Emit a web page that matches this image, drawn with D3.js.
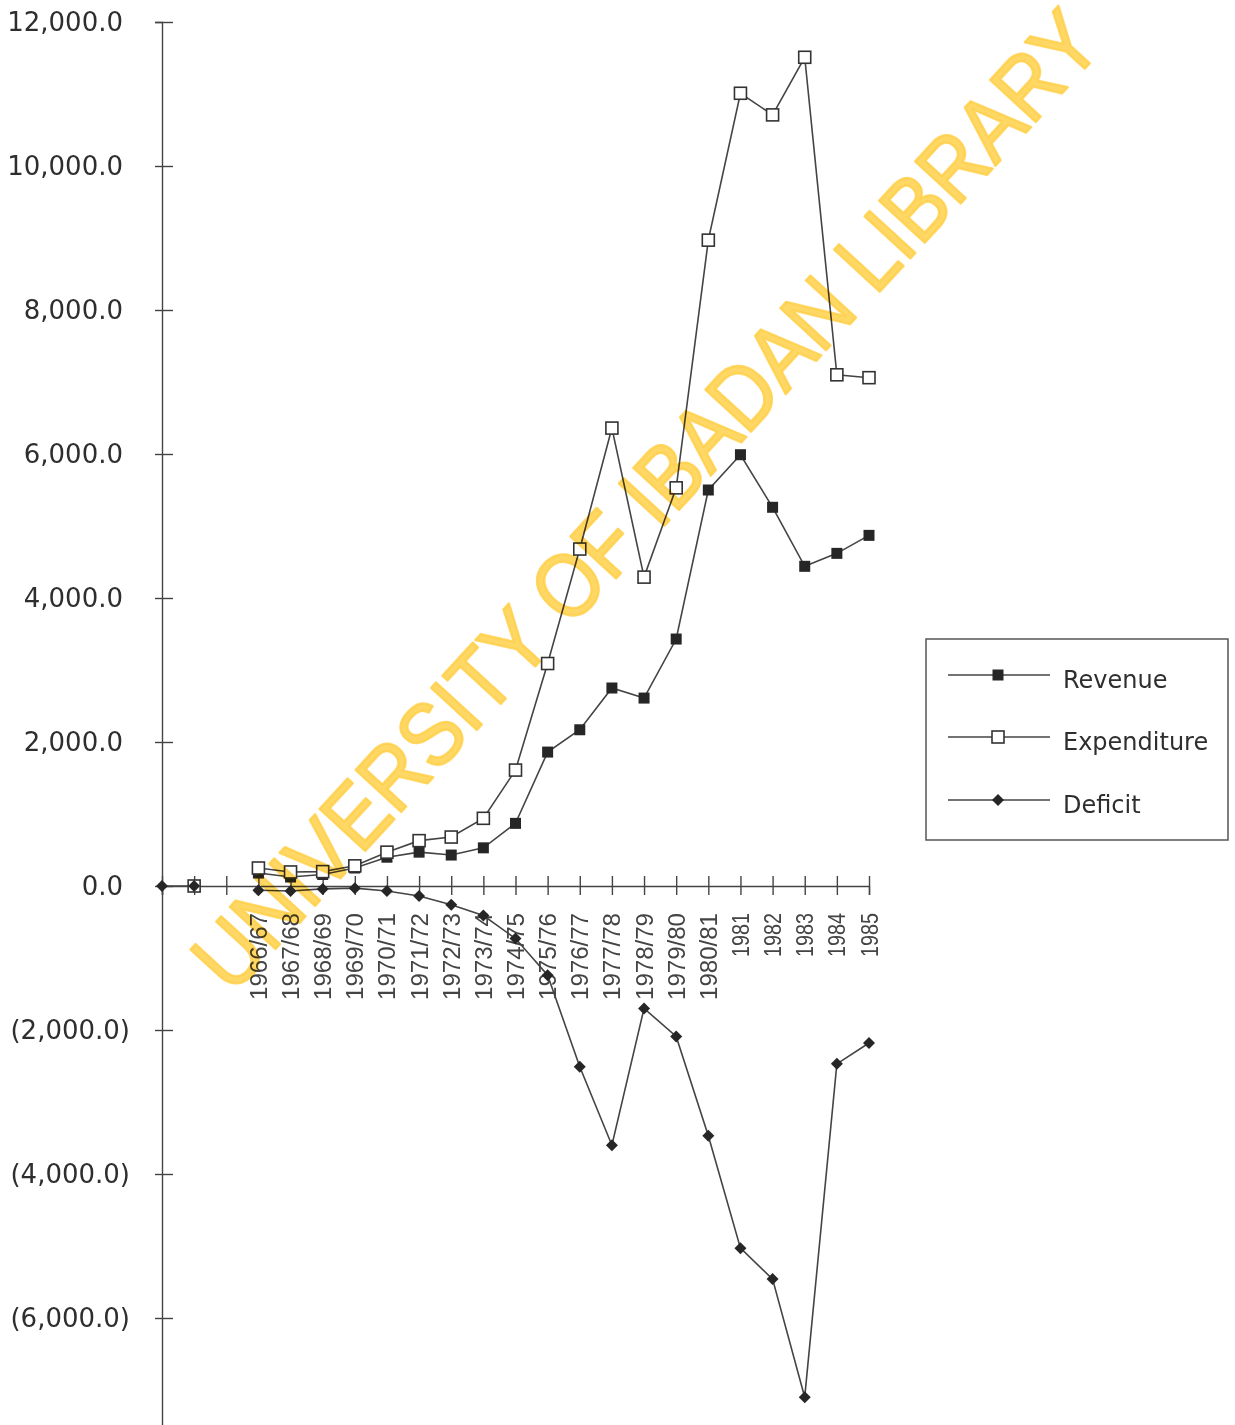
<!DOCTYPE html>
<html>
<head>
<meta charset="utf-8">
<script src="https://cdn.jsdelivr.net/npm/d3@7"></script>
<style>
  html, body { margin: 0; padding: 0; background: #ffffff; }
  svg { display: block; }
</style>
</head>
<body>
<svg id="chart" width="1235" height="1425"></svg>
<script>
// Federal revenue, expenditure and deficit (N million)
const categories = ["", "", "", "1966/67", "1967/68", "1968/69", "1969/70", "1970/71",
  "1971/72", "1972/73", "1973/74", "1974/75", "1975/76", "1976/77", "1977/78",
  "1978/79", "1979/80", "1980/81", "1981", "1982", "1983", "1984", "1985"];
const revenue = [null, 0, null, 180, 125, 160, 250, 400, 470, 430, 530, 870, 1860,
  2170, 2750, 2610, 3430, 5500, 5990, 5260, 4440, 4620, 4870];
const expenditure = [null, 0, null, 250, 195, 200, 280, 470, 630, 680, 940, 1610, 3090,
  4680, 6360, 4290, 5530, 8970, 11010, 10710, 11510, 7100, 7060];
const deficit = [0, 0, null, -60, -70, -40, -30, -70, -140, -260, -410, -730, -1240,
  -2510, -3600, -1700, -2090, -3470, -5030, -5460, -7100, -2470, -2180];
const yTicks = [-8000, -6000, -4000, -2000, 0, 2000, 4000, 6000, 8000, 10000, 12000];
const yTickLabels = [-6000, -4000, -2000, 0, 2000, 4000, 6000, 8000, 10000, 12000];
const seriesNames = ["Revenue", "Expenditure", "Deficit"];
const watermarkText = "UNIVERSITY OF IBADAN LIBRARY";

const svg = d3.select("#chart");
const ink = "#2e2e2e";
const lineInk = "#444444";
const markInk = "#262626";

const x = d3.scalePoint().domain(d3.range(categories.length)).range([162, 869]);
const y = d3.scaleLinear().domain([-8000, 12000]).range([1462, 22]);

const fmt = d3.format(",.1f");
const tickText = v => v < 0 ? `(${fmt(-v)})` : fmt(v);

// Y axis: ticks cross the axis line
const yAxis = svg.append("g")
  .attr("transform", `translate(${x(0)},0)`)
  .call(d3.axisLeft(y).tickValues(yTicks).tickSize(7).tickFormat(""));
yAxis.select(".domain").attr("stroke", "#444").attr("stroke-width", 1.4);
yAxis.selectAll(".tick line").attr("x1", -7).attr("x2", 11)
  .attr("stroke", "#444").attr("stroke-width", 1.4);

svg.append("g").selectAll("text").data(yTickLabels).join("text")
  .attr("x", d => d < 0 ? 130 : 123)
  .attr("y", d => y(d))
  .attr("dy", "0.36em")
  .attr("text-anchor", "end")
  .attr("font-family", "DejaVu Sans, sans-serif")
  .attr("font-size", 26)
  .attr("fill", ink)
  .text(tickText);

// X axis along zero
const xAxis = svg.append("g")
  .attr("transform", `translate(0,${y(0)})`)
  .call(d3.axisBottom(x).tickSize(9).tickFormat(""));
xAxis.select(".domain").attr("stroke", "#444").attr("stroke-width", 1.4);
xAxis.selectAll(".tick line").attr("y1", -10).attr("y2", 9)
  .attr("stroke", "#444").attr("stroke-width", 1.4);

svg.append("g").selectAll("text").data(categories.map((c, i) => ({ c, i })).filter(d => d.c))
  .join("text")
  .attr("transform", d => `translate(${x(d.i)},${y(0) + 27}) rotate(-90)`)
  .attr("dy", "0.37em")
  .attr("text-anchor", "end")
  .attr("font-family", "Liberation Sans, Arial, sans-serif")
  .attr("font-size", 23)
  .attr("fill", "#444")
  .attr("textLength", d => d.c.includes("/") ? 87 : 44)
  .attr("lengthAdjust", "spacingAndGlyphs")
  .text(d => d.c);

// Lines and markers
const pts = arr => arr.map((v, i) => ({ i, v }));
const line = d3.line().defined(d => d.v !== null).x(d => x(d.i)).y(d => y(d.v));
const allSeries = [revenue, expenditure, deficit];

const plot = svg.append("g");
allSeries.forEach(arr => {
  plot.append("path").datum(pts(arr))
    .attr("d", line)
    .attr("fill", "none")
    .attr("stroke", lineInk)
    .attr("stroke-width", 1.6);
});

function drawMarker(g, kind, cx, cy) {
  if (kind === 0) {
    g.append("rect").attr("x", cx - 5.5).attr("y", cy - 5.5).attr("width", 11).attr("height", 11)
      .attr("fill", markInk);
  } else if (kind === 1) {
    g.append("rect").attr("x", cx - 6).attr("y", cy - 6).attr("width", 12).attr("height", 12)
      .attr("fill", "#ffffff").attr("stroke", "#333").attr("stroke-width", 1.6);
  } else {
    g.append("path").attr("d", `M${cx},${cy - 6}L${cx + 6},${cy}L${cx},${cy + 6}L${cx - 6},${cy}Z`)
      .attr("fill", markInk);
  }
}

allSeries.forEach((arr, k) => {
  const g = plot.append("g");
  pts(arr).filter(d => d.v !== null).forEach(d => drawMarker(g, k, x(d.i), y(d.v)));
});

// Legend
const legend = svg.append("g");
legend.append("rect").attr("x", 926).attr("y", 639).attr("width", 302).attr("height", 201)
  .attr("fill", "#ffffff").attr("stroke", "#555").attr("stroke-width", 1.5);
const rowY = [675, 737, 800];
seriesNames.forEach((name, k) => {
  const g = legend.append("g");
  g.append("line").attr("x1", 948).attr("x2", 1050).attr("y1", rowY[k]).attr("y2", rowY[k])
    .attr("stroke", lineInk).attr("stroke-width", 1.5);
  drawMarker(g, k, 998, rowY[k]);
  g.append("text").attr("x", 1063).attr("y", rowY[k] + 4).attr("dy", "0.36em")
    .attr("font-family", "DejaVu Sans, sans-serif").attr("font-size", 24)
    .attr("fill", ink).text(name);
});

// Library watermark across the plot
svg.append("text")
  .attr("transform", "translate(232,996) rotate(-47.4)")
  .attr("font-family", "Liberation Sans, Arial, sans-serif")
  .attr("font-size", 90)
  .attr("textLength", 1290)
  .attr("lengthAdjust", "spacingAndGlyphs")
  .attr("fill", "#ffd04a")
  .attr("stroke", "#ffd04a")
  .attr("stroke-width", 2.5)
  .attr("stroke-linejoin", "round")
  .attr("fill-opacity", 0.85)
  .attr("stroke-opacity", 0.85)
  .style("mix-blend-mode", "multiply")
  .text(watermarkText);
</script>
</body>
</html>
